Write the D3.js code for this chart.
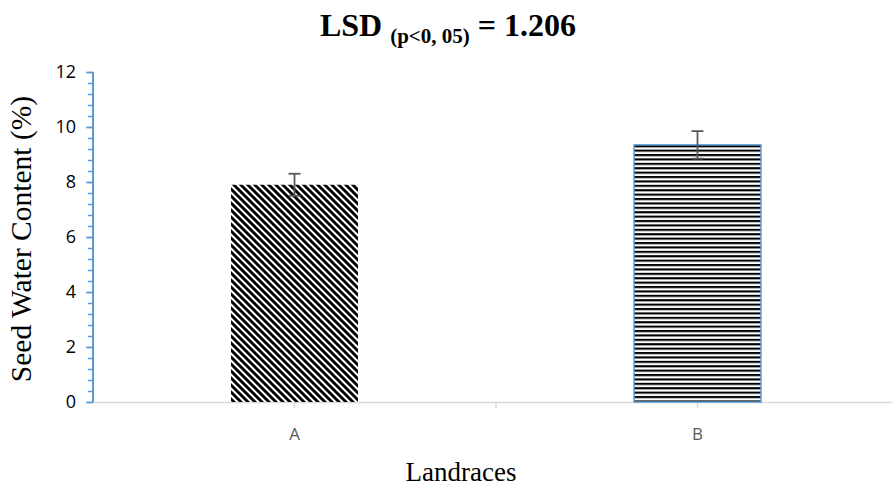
<!DOCTYPE html>
<html>
<head>
<meta charset="utf-8">
<script src="https://cdn.jsdelivr.net/npm/d3@7/dist/d3.min.js"></script>
<style>
  html, body { margin: 0; padding: 0; background: #fff; }
  svg { display: block; }
</style>
</head>
<body>
<svg id="chart" width="892" height="490"></svg>
<script>
// Seed water content by landrace, with error bars
const categories = ["A", "B"];
const values = [7.9, 9.35];
const errors = [0.4, 0.5];
const yTicks = [0, 2, 4, 6, 8, 10, 12];
const patterns = ["diag", "horiz"];

const svg = d3.select("#chart");
const margin = { left: 93, right: -7, top: 72, bottom: 88 };
const W = 892, H = 490;
const plotBottom = H - margin.bottom;

const y = d3.scaleLinear().domain([0, 12]).range([plotBottom, margin.top]);
const x = d3.scaleBand().domain(categories).range([margin.left, W - margin.right]).padding(0);
const barW = x.bandwidth() * 0.315;

// fill patterns
const defs = svg.append("defs");
const P = 7;
const pd = defs.append("pattern").attr("id", "diag").attr("patternUnits", "userSpaceOnUse")
  .attr("width", P).attr("height", P);
pd.append("rect").attr("width", P).attr("height", P).attr("fill", "#fff");
pd.append("path").attr("d", `M0,0 L${P},${P} M${-P},0 L0,${P} M0,${-P} L${P},0 M${P},0 L${2*P},${P} M0,${P} L${P},${2*P}`)
  .attr("stroke", "#000").attr("stroke-width", 2.9);

const ph = defs.append("pattern").attr("id", "horiz").attr("patternUnits", "userSpaceOnUse")
  .attr("width", 8).attr("height", 4.4);
ph.append("rect").attr("width", 8).attr("height", 4.4).attr("fill", "#fff");
ph.append("rect").attr("y", 0).attr("width", 8).attr("height", 2).attr("fill", "#000");
ph.append("rect").attr("y", 2).attr("width", 8).attr("height", 0.6).attr("fill", "#888");

// x axis baseline
svg.append("line")
  .attr("x1", margin.left).attr("x2", W)
  .attr("y1", plotBottom + 0.5).attr("y2", plotBottom + 0.5)
  .attr("stroke", "#d9d9d9").attr("stroke-width", 1.5);

// x ticks: at category centres and at the category boundary
const xTickPos = [x("A") + x.bandwidth() / 2, x("B"), x("B") + x.bandwidth() / 2];
svg.selectAll(".xtick").data(xTickPos).join("line")
  .attr("x1", d => d).attr("x2", d => d)
  .attr("y1", plotBottom).attr("y2", plotBottom + 6)
  .attr("stroke", "#d9d9d9").attr("stroke-width", 1.5);

// bars
svg.selectAll(".bar").data(categories).join("rect")
  .attr("class", "bar")
  .attr("x", (d) => x(d) + x.bandwidth() / 2 - barW / 2)
  .attr("y", (d, i) => y(values[i]))
  .attr("width", barW)
  .attr("height", (d, i) => y(0) - y(values[i]))
  .attr("fill", (d, i) => `url(#${patterns[i]})`)
  .attr("stroke", (d, i) => i === 1 ? "#5b9bd5" : "none")
  .attr("stroke-width", 1.5);

// error bars
const eb = svg.selectAll(".err").data(categories).join("g").attr("class", "err");
eb.append("line")
  .attr("x1", d => x(d) + x.bandwidth() / 2).attr("x2", d => x(d) + x.bandwidth() / 2)
  .attr("y1", (d, i) => y(values[i] + errors[i])).attr("y2", (d, i) => y(values[i] - errors[i]))
  .attr("stroke", "#595959").attr("stroke-width", 1.8);
[1, -1].forEach(s => {
  eb.append("line")
    .attr("x1", d => x(d) + x.bandwidth() / 2 - 6).attr("x2", d => x(d) + x.bandwidth() / 2 + 6)
    .attr("y1", (d, i) => y(values[i] + s * errors[i])).attr("y2", (d, i) => y(values[i] + s * errors[i]))
    .attr("stroke", "#595959").attr("stroke-width", 1.8);
});

// y axis with major and minor ticks
const yAxisG = svg.append("g").attr("transform", `translate(${margin.left},0)`);
yAxisG.call(d3.axisLeft(y).tickValues(d3.range(0, 12.01, 0.4)).tickSize(5).tickFormat(""))
  .call(g => g.selectAll("line").attr("stroke", "#5b9bd5").attr("stroke-width", 1.5))
  .call(g => g.select(".domain").remove());
yAxisG.append("g").call(d3.axisLeft(y).tickValues(yTicks).tickSize(7).tickFormat(d3.format("d")))
  .call(g => g.select(".domain").remove())
  .call(g => g.selectAll("line").attr("stroke", "#5b9bd5").attr("stroke-width", 1.5))
  .call(g => g.selectAll("text").attr("fill", "#000").attr("font-family", "'Open Sans', sans-serif")
    .attr("font-size", 18).attr("x", -17));
yAxisG.append("line").attr("x1", 0).attr("x2", 0).attr("y1", y(12)).attr("y2", y(0))
  .attr("stroke", "#5b9bd5").attr("stroke-width", 2);

// x tick labels
svg.selectAll(".xlab").data(categories).join("text")
  .attr("x", d => x(d) + x.bandwidth() / 2)
  .attr("y", plotBottom + 38)
  .attr("text-anchor", "middle")
  .attr("font-family", "'Open Sans', sans-serif").attr("font-size", 17)
  .attr("fill", "#595959")
  .text(d => d);

// axis titles
svg.append("text")
  .attr("x", 461).attr("y", 481)
  .attr("text-anchor", "middle")
  .attr("font-family", "'Liberation Serif', 'Times New Roman', serif")
  .attr("font-size", 27).attr("fill", "#000")
  .text("Landraces");

svg.append("text")
  .attr("transform", `translate(31,${(y(0) + y(12)) / 2 + 2}) rotate(-90)`)
  .attr("text-anchor", "middle")
  .attr("font-family", "'Liberation Serif', 'Times New Roman', serif")
  .attr("font-size", 29.5).attr("fill", "#000")
  .text("Seed Water Content (%)");

// title with subscript
const title = svg.append("text")
  .attr("x", 448).attr("y", 36)
  .attr("text-anchor", "middle")
  .attr("font-family", "'Liberation Serif', 'Times New Roman', serif")
  .attr("font-weight", "bold").attr("font-size", 32).attr("fill", "#000");
title.append("tspan").text("LSD ");
title.append("tspan").attr("font-size", 21).attr("dy", 7).text("(p<0, 05)");
title.append("tspan").attr("dy", -7).text(" = 1.206");
</script>
</body>
</html>
